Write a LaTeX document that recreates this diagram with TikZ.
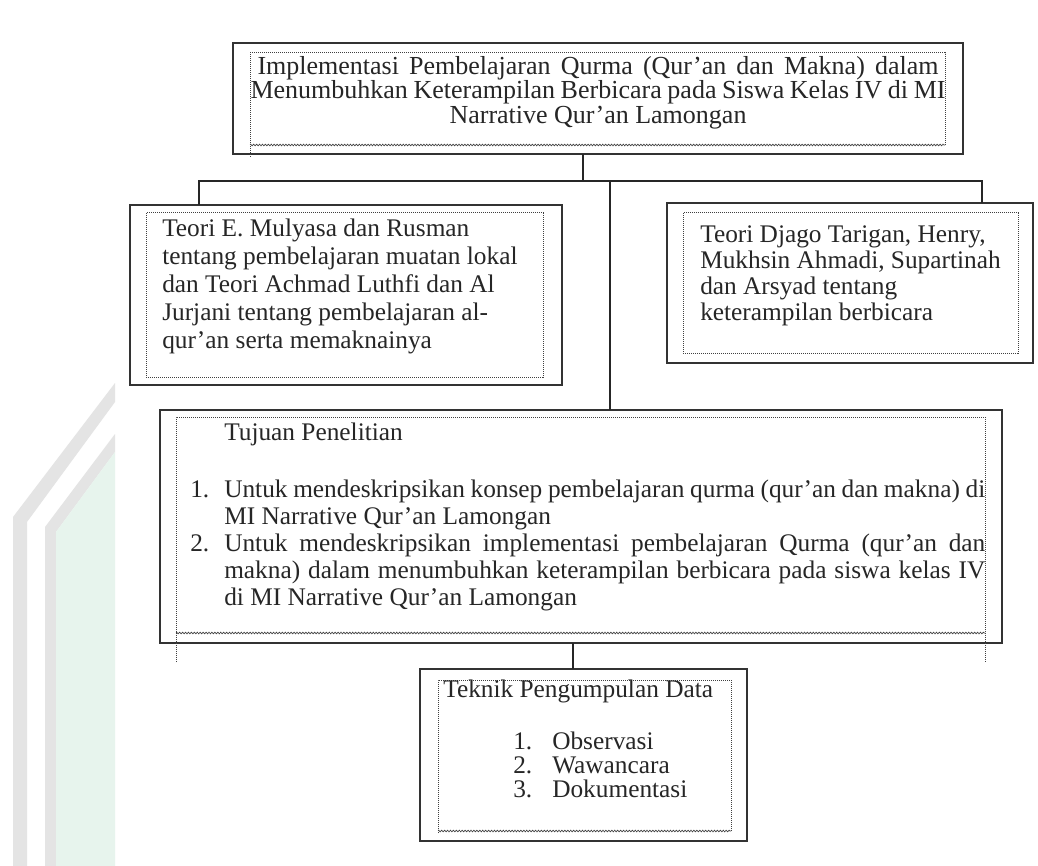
\documentclass[tikz,border=0pt]{standalone}
\usepackage{fontspec}
\setmainfont{Liberation Serif}
\usepackage{tikz}
\usetikzlibrary{decorations.pathmorphing}

\definecolor{abu}{RGB}{228,228,228}
\definecolor{hijau}{RGB}{231,244,237}
\newcommand{\rata}[2]{\makebox[#1][s]{#2}}
\newcommand{\nomor}[1]{\makebox[25.5pt][l]{#1}}

\tikzset{
  kotak/.style={draw=black!80, line width=1.5pt, outer sep=0pt, inner sep=0pt},
  titik/.style={black!75, line width=0.75pt, dash pattern=on 0.75pt off 0.75pt},
  gelombang/.style={black!75, line width=0.5pt, decorate, decoration={zigzag, amplitude=0.6pt, segment length=2.2pt}},
  garis/.style={black!85, line width=1.2pt},
  teks/.style={inner sep=0pt, text=black!85, align=left}
}

\begin{document}
\begin{tikzpicture}[x=0.75pt,y=0.75pt,yscale=-1,xscale=1]

\fill[white] (0,0) rectangle (1038,866);
\useasboundingbox (0,0) rectangle (1038,866);

\fill[abu] (115,383) -- (13,517) -- (13,866) -- (27,866) -- (27,522) -- (115,402) -- cycle ;

\fill[abu] (115,434) -- (45,527) -- (45,866) -- (56,866) -- (56,532) -- (115,452) -- cycle ;

\fill[hijau] (115,452) -- (56,532) -- (56,866) -- (115,866) -- cycle ;



\node[kotak, minimum width=547.5pt, minimum height=83.25pt] (judul) at (598,98.5) {};

\draw[titik] (250,157) -- (250,53) -- (945,53) -- (945,145) ;

\draw[gelombang] (250,145) -- (945,145) ;

\node[teks, align=center, anchor=north, font=\fontsize{19.5pt}{18.4pt}\selectfont] (tjudul) at (598,56) {\rata{510.75pt}{Implementasi Pembelajaran Qurma (Qur'an dan Makna) dalam}\\ \rata{521.25pt}{Menumbuhkan Keterampilan Berbicara pada Siswa Kelas IV di MI}\\ Narrative Qur'an Lamongan};



\node[kotak, minimum width=324pt, minimum height=135pt] (teorikiri) at (346,295) {};

\draw[titik] (146,213) rectangle (543,377) ;

\node[teks, anchor=north west, font=\fontsize{19pt}{21pt}\selectfont] (tkiri) at (162,218.5) {Teori E. Mulyasa dan Rusman\\ tentang pembelajaran muatan lokal\\ dan Teori Achmad Luthfi dan Al\\ Jurjani tentang pembelajaran al-\\ qur'an serta memaknainya};



\node[kotak, minimum width=274.5pt, minimum height=120pt] (teorikanan) at (850,283) {};

\draw[titik] (683,213) rectangle (1018,353) ;

\node[teks, anchor=north west, font=\fontsize{19pt}{19.5pt}\selectfont] (tkanan) at (700,225) {Teori Djago Tarigan, Henry,\\ Mukhsin Ahmadi, Supartinah\\ dan Arsyad tentang\\ keterampilan berbicara};



\node[kotak, minimum width=631.5pt, minimum height=174.75pt] (tujuan) at (581,526.5) {};

\draw[titik] (176,662) -- (176,417) -- (985,417) -- (985,662) ;

\draw[gelombang] (176,633) -- (985,633) ;

\node[teks, anchor=north west, font={\fontsize{19pt}{20.25pt}\selectfont\spaceskip=.25em plus .5em minus .15em}] (ttujuan) at (190,422.5) {\hspace*{25.5pt}Tujuan Penelitian\\[22.5pt] \nomor{1.}\rata{570.75pt}{Untuk mendeskripsikan konsep pembelajaran qurma (qur'an dan makna) di}\\ \hspace*{25.5pt}MI Narrative Qur'an Lamongan\\ \nomor{2.}\rata{570.75pt}{Untuk mendeskripsikan implementasi pembelajaran Qurma (qur'an dan}\\ \hspace*{25.5pt}\rata{570.75pt}{makna) dalam menumbuhkan keterampilan berbicara pada siswa kelas IV}\\ \hspace*{25.5pt}di MI Narrative Qur'an Lamongan};



\node[kotak, minimum width=245.25pt, minimum height=129pt] (teknik) at (583.5,755) {};

\draw[titik] (438,833) -- (438,680) -- (731,680) -- (731,831) ;

\draw[gelombang] (438,831) -- (731,831) ;

\node[teks, anchor=north west, font=\fontsize{19pt}{18pt}\selectfont] (tteknik) at (443,679.5) {Teknik Pengumpulan Data\\[21pt] \hspace*{52.5pt}\makebox[29.25pt][l]{1.}Observasi\\ \hspace*{52.5pt}\makebox[29.25pt][l]{2.}Wawancara\\ \hspace*{52.5pt}\makebox[29.25pt][l]{3.}Dokumentasi};



\coordinate (cabang) at (583,181);

\coordinate (kiri) at (199,181);

\coordinate (kanan) at (982,181);

\coordinate (tengah) at (610,181);

\coordinate (bawah) at (573,656);

\draw[garis] (judul.south -| cabang) -- (cabang) ;

\draw[garis] (teorikiri.north -| kiri) -- (kiri) -- (kanan) -- (teorikanan.north -| kanan) ;

\draw[garis] (tengah) -- (tujuan.north -| tengah) ;

\draw[garis] (tujuan.south -| bawah) -- (teknik.north -| bawah) ;

\end{tikzpicture}
\end{document}
